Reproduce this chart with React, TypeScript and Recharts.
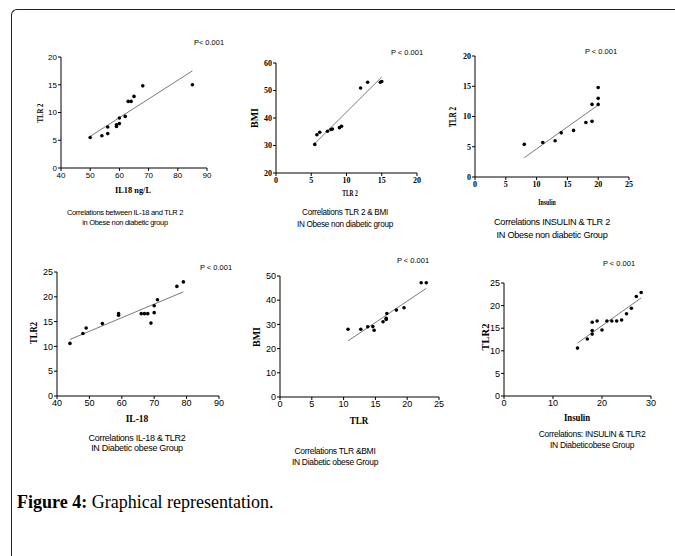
import React from "react";
import { ScatterChart, Scatter, XAxis, YAxis } from "recharts";

// ---------- data ----------
const p1X = [50, 54, 56, 56, 59, 59, 60, 60, 62, 63, 64, 65, 68, 85];
const p1Y = [5.5, 5.8, 7.4, 6.2, 7.5, 7.8, 8.0, 9.0, 9.3, 12.0, 12.0, 12.9, 14.8, 15.0];
const p1FitX = [50, 85];
const p1FitY = [5.7, 17.5];
const p1XTicks = [40, 50, 60, 70, 80, 90];
const p1YTicks = [0, 5, 10, 15, 20];

const p2X = [5.5, 5.8, 6.2, 7.3, 7.8, 8.0, 9.0, 9.3, 12.0, 13.0, 14.8, 15.0];
const p2Y = [30.4, 33.9, 34.8, 35.2, 35.8, 36.0, 36.5, 37.0, 50.9, 53.0, 53.0, 53.3];
const p2FitX = [5.5, 15];
const p2FitY = [30.7, 54.9];
const p2XTicks = [0, 5, 10, 15, 20];
const p2YTicks = [20, 30, 40, 50, 60];

const p3X = [8, 11, 13, 14, 16, 18, 19, 19, 20, 20, 20];
const p3Y = [5.4, 5.7, 6.0, 7.3, 7.7, 9.0, 9.2, 12.0, 12.0, 13.0, 14.8];
const p3FitX = [8, 20];
const p3FitY = [3.2, 11.9];
const p3XTicks = [0, 5, 10, 15, 20, 25];
const p3YTicks = [0, 5, 10, 15, 20];

const p4X = [44, 48, 49, 54, 59, 59, 66, 67, 68, 69, 70, 70, 71, 77, 79];
const p4Y = [10.6, 12.6, 13.7, 14.6, 16.6, 16.3, 16.6, 16.6, 16.6, 14.7, 16.8, 18.2, 19.4, 22.1, 23.0];
const p4FitX = [44, 79];
const p4FitY = [11.4, 21.0];
const p4XTicks = [40, 50, 60, 70, 80, 90];
const p4YTicks = [0, 5, 10, 15, 20, 25];

const p5X = [10.7, 12.7, 13.8, 14.6, 14.8, 16.2, 16.7, 16.7, 16.8, 18.3, 19.5, 22.2, 23.0];
const p5Y = [28.0, 28.0, 29.0, 29.1, 27.6, 31.1, 32.0, 32.5, 34.5, 35.9, 36.9, 47.2, 47.2];
const p5FitX = [10.7, 23.0];
const p5FitY = [23.2, 44.9];
const p5XTicks = [0, 5, 10, 15, 20, 25];
const p5YTicks = [0, 10, 20, 30, 40, 50];

const p6X = [15, 17, 18, 18, 18, 19, 20, 21, 22, 23, 24, 25, 26, 27, 28];
const p6Y = [10.6, 12.6, 13.7, 14.5, 16.3, 16.6, 14.6, 16.6, 16.6, 16.6, 16.8, 18.2, 19.4, 22.0, 22.9];
const p6FitX = [15, 28];
const p6FitY = [11.7, 21.7];
const p6XTicks = [0, 10, 20, 30];
const p6YTicks = [0, 5, 10, 15, 20, 25];

const zip = (xs: number[], ys: number[]) => xs.map((x, i) => ({ x, y: ys[i] }));

const SANS = "'Liberation Sans', Arial, sans-serif";
const SERIF = "'Liberation Serif', 'Times New Roman', serif";

type Box = { x0: number; x1: number; y0: number; y1: number };

const panels = [
  {
    box: { x0: 61, x1: 207, y0: 57, y1: 168 },
    pts: zip(p1X, p1Y), fit: zip(p1FitX, p1FitY),
    xDom: [40, 90], yDom: [0, 20], xTicks: p1XTicks, yTicks: p1YTicks,
    tickFont: { fontFamily: SANS, fontSize: 8, fontWeight: 400 },
    xLabel: "IL18 ng/L", xLabelPos: [133, 190], xl: [9, 0.93],
    yLabel: "TLR 2", yLabelPos: [40, 113], yl: [9, 0.75],
    pPos: [209, 43], pText: "P< 0.001",
    cap: ["Correlations between IL-18 and TLR 2", "in Obese non diabetic group"],
    capPos: [125, 213], capGap: 10, capSize: 7.5,
  },
  {
    box: { x0: 276, x1: 417, y0: 63, y1: 173 },
    pts: zip(p2X, p2Y), fit: zip(p2FitX, p2FitY),
    xDom: [0, 20], yDom: [20, 60], xTicks: p2XTicks, yTicks: p2YTicks,
    tickFont: { fontFamily: SERIF, fontSize: 8, fontWeight: 700 },
    xLabel: "TLR 2", xLabelPos: [350, 193], xl: [8.5, 0.65],
    yLabel: "BMI", yLabelPos: [255, 118], yl: [10, 1.0],
    pPos: [407, 53], pText: "P < 0.001",
    cap: ["Correlations TLR 2 & BMI", "IN Obese non diabetic group"],
    capPos: [345, 213], capGap: 12, capSize: 8.2,
  },
  {
    box: { x0: 475, x1: 629, y0: 56, y1: 177 },
    pts: zip(p3X, p3Y), fit: zip(p3FitX, p3FitY),
    xDom: [0, 25], yDom: [0, 20], xTicks: p3XTicks, yTicks: p3YTicks,
    tickFont: { fontFamily: SERIF, fontSize: 8, fontWeight: 700 },
    xLabel: "Insulin", xLabelPos: [547, 202], xl: [9, 0.65],
    yLabel: "TLR 2", yLabelPos: [454, 117], yl: [9.5, 0.75],
    pPos: [601, 52], pText: "P < 0.001",
    cap: ["Correlations INSULIN & TLR 2", "IN Obese non diabetic  Group"],
    capPos: [552, 223], capGap: 12.5, capSize: 9.2,
  },
  {
    box: { x0: 57, x1: 219, y0: 272, y1: 396 },
    pts: zip(p4X, p4Y), fit: zip(p4FitX, p4FitY),
    xDom: [40, 90], yDom: [0, 25], xTicks: p4XTicks, yTicks: p4YTicks,
    tickFont: { fontFamily: SANS, fontSize: 9, fontWeight: 400 },
    xLabel: "IL-18", xLabelPos: [137, 420], xl: [9.5, 1.0],
    yLabel: "TLR2", yLabelPos: [35, 333], yl: [9.5, 0.9],
    pPos: [216, 268], pText: "P < 0.001",
    cap: ["Correlations IL-18 & TLR2", "IN Diabetic obese Group"],
    capPos: [137, 438], capGap: 10, capSize: 9,
  },
  {
    box: { x0: 280, x1: 439, y0: 276, y1: 397 },
    pts: zip(p5X, p5Y), fit: zip(p5FitX, p5FitY),
    xDom: [0, 25], yDom: [0, 50], xTicks: p5XTicks, yTicks: p5YTicks,
    tickFont: { fontFamily: SANS, fontSize: 9, fontWeight: 400 },
    xLabel: "TLR", xLabelPos: [359, 422], xl: [9.5, 0.95],
    yLabel: "BMI", yLabelPos: [257, 337], yl: [10, 1.0],
    pPos: [413, 261], pText: "P < 0.001",
    cap: ["Correlations  TLR &BMI", "IN Diabetic obese Group"],
    capPos: [335, 451], capGap: 10.5, capSize: 8.5,
  },
  {
    box: { x0: 504, x1: 651, y0: 283, y1: 396 },
    pts: zip(p6X, p6Y), fit: zip(p6FitX, p6FitY),
    xDom: [0, 30], yDom: [0, 25], xTicks: p6XTicks, yTicks: p6YTicks,
    tickFont: { fontFamily: SANS, fontSize: 9, fontWeight: 400 },
    xLabel: "Insulin", xLabelPos: [577, 419], xl: [9.5, 0.92],
    yLabel: "TLR2", yLabelPos: [486, 337], yl: [10.5, 1.0],
    pPos: [619, 264], pText: "P < 0.001",
    cap: ["Correlations: INSULIN & TLR2", "IN Diabeticobese Group"],
    capPos: [592, 434], capGap: 11, capSize: 8.5,
  },
];

const Dot = (props: any) => <circle cx={props.cx} cy={props.cy} r={1.8} fill="#000" />;
const NoDot = () => <g />;

const ML = 40, MT = 10, MR = 12, MB = 30;

function Panel({ p }: { p: any }) {
  const b: Box = p.box;
  const w = b.x1 - b.x0 + ML + MR;
  const h = b.y1 - b.y0 + MT + MB;
  const tick = { ...p.tickFont, fill: "#000" };
  const center = (pos: number[], extra: any = {}) => ({
    position: "absolute" as const,
    left: pos[0],
    top: pos[1],
    transform: "translate(-50%, -50%)",
    whiteSpace: "nowrap" as const,
    color: "#000",
    lineHeight: 1,
    ...extra,
  });
  return (
    <>
      <div style={{ position: "absolute", left: b.x0 - ML, top: b.y0 - MT }}>
        <ScatterChart width={w} height={h} margin={{ top: MT, right: MR, left: 0, bottom: 0 }}>
          <XAxis
            type="number" dataKey="x" domain={p.xDom} ticks={p.xTicks} interval={0}
            height={MB} tickSize={3} tickMargin={1} allowDataOverflow
            axisLine={{ stroke: "#000" }} tickLine={{ stroke: "#000" }} tick={tick}
          />
          <YAxis
            type="number" dataKey="y" domain={p.yDom} ticks={p.yTicks} interval={0}
            width={ML} tickSize={3} tickMargin={1} allowDataOverflow
            axisLine={{ stroke: "#000" }} tickLine={{ stroke: "#000" }} tick={tick}
          />
          <Scatter data={p.fit} line={{ stroke: "#7a7a7a", strokeWidth: 1 }} shape={NoDot} isAnimationActive={false} />
          <Scatter data={p.pts} shape={Dot} isAnimationActive={false} />
        </ScatterChart>
      </div>
      <div style={center(p.xLabelPos, { fontFamily: SERIF, fontWeight: 700, fontSize: p.xl[0], transform: `translate(-50%, -50%) scaleX(${p.xl[1]})` })}>{p.xLabel}</div>
      <div style={center(p.yLabelPos, { fontFamily: SERIF, fontWeight: 700, fontSize: p.yl[0], transform: `translate(-50%, -50%) rotate(-90deg) scaleX(${p.yl[1]})` })}>{p.yLabel}</div>
      <div style={center(p.pPos, { fontFamily: SANS, fontSize: 7.5 })}>{p.pText}</div>
      {p.cap.map((c: string, i: number) => (
        <div key={i} style={center([p.capPos[0], p.capPos[1] + i * p.capGap], { fontFamily: SANS, fontSize: p.capSize, letterSpacing: -0.3 })}>{c}</div>
      ))}
    </>
  );
}

export default function App() {
  return (
    <div style={{ position: "absolute", left: 0, top: 0, width: 675, height: 556, background: "#fff", overflow: "hidden" }}>
      <div
        style={{
          position: "absolute", left: 11, top: 9, width: 700, height: 600,
          borderLeft: "1.5px solid #222", borderTop: "1.5px solid #222", borderTopLeftRadius: 6,
        }}
      />
      {panels.map((p, i) => (
        <Panel key={i} p={p} />
      ))}
      <div style={{ position: "absolute", left: 17, top: 493, fontFamily: SERIF, fontSize: 18, color: "#000", whiteSpace: "nowrap", lineHeight: 1 }}>
        <span style={{ fontWeight: 700 }}>Figure 4:</span> Graphical representation.
      </div>
    </div>
  );
}
